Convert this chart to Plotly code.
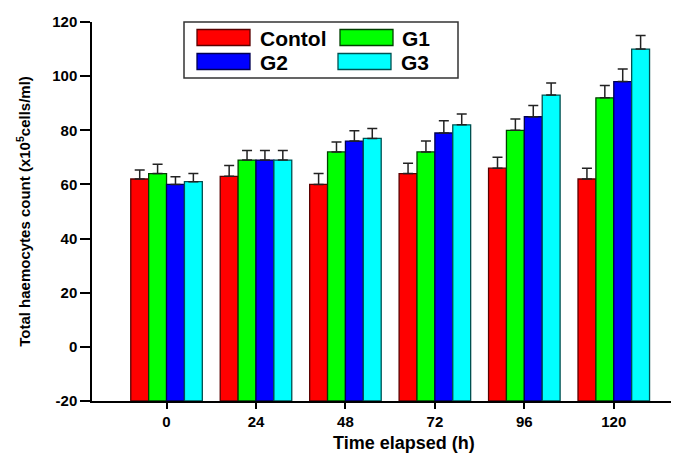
import plotly.graph_objects as go

hours = [0, 24, 48, 72, 96, 120]
series_names = ["Contol", "G1", "G2", "G3"]
control = [62, 63, 60, 64, 66, 62]
g1 = [64, 69, 72, 72, 80, 92]
g2 = [60, 69, 76, 79, 85, 98]
g3 = [61, 69, 77, 82, 93, 110]
control_err = [3.3, 4, 4, 3.8, 4, 4]
g1_err = [3.5, 3.5, 3.7, 4, 4.2, 4.5]
g2_err = [2.8, 3.5, 3.8, 4.5, 4.2, 4.6]
g3_err = [3, 3.5, 3.7, 4, 4.5, 5]
y_ticks = [-20, 0, 20, 40, 60, 80, 100, 120]
BAR_BASE = -20  # bars rise from the bottom of the axis, as in the original
colors = ["#ff0000", "#00ff00", "#0000ff", "#00ffff"]
outlines = ["#5a0000", "#004000", "#000050", "#005050"]

# page body has an 8px default margin; compensate so the plot lands where the original is
OFF = 8
W, H = 679 - OFF, 454 - OFF
L, R, T, B = 92 - OFF, 0, 22 - OFF, 454 - 401
PW, PH = W - L - R, H - T - B

def px(x):  # viewport pixel -> paper x
    return (x - OFF - L) / PW

def py(y):  # viewport pixel -> paper y
    return (H - B - (y - OFF)) / PH

fig = go.Figure()
values = [control, g1, g2, g3]
errs = [control_err, g1_err, g2_err, g3_err]
for name, vals, err, c, oc in zip(series_names, values, errs, colors, outlines):
    fig.add_trace(go.Bar(
        x=hours, y=[v - BAR_BASE for v in vals], base=BAR_BASE, name=name, showlegend=False,
        customdata=vals, hovertemplate="%{x} h: %{customdata}<extra>" + name + "</extra>",
        marker=dict(color=c, line=dict(color=oc, width=1.3)),
        error_y=dict(type="data", array=err, arrayminus=[0] * len(err),
                     symmetric=False, color="#222222", thickness=1.5, width=5),
    ))

font_family = "Liberation Sans, Arial, sans-serif"

# Manual legend (box + swatches + labels)
shapes = [dict(type="rect", xref="paper", yref="paper",
               x0=px(184), x1=px(458), y0=py(78), y1=py(22),
               line=dict(color="#333333", width=1.5), fillcolor="white", layer="above")]
annotations = []
legend_pos = [(197, 37.5), (340, 37.5), (197, 61.5), (338, 61.5)]
text_x = [258, 400, 258, 399]
for i, name in enumerate(series_names):
    sx, sy = legend_pos[i]
    shapes.append(dict(type="rect", xref="paper", yref="paper",
                       x0=px(sx), x1=px(sx + 53), y0=py(sy + 8), y1=py(sy - 8),
                       line=dict(color=outlines[i], width=1.3), fillcolor=colors[i], layer="above"))
    annotations.append(dict(xref="paper", yref="paper", x=px(text_x[i]), y=py(sy + 1),
                            text="<b>%s</b>" % name, showarrow=False,
                            xanchor="left", yanchor="middle",
                            font=dict(family=font_family, size=21, color="black")))

# x-axis title, placed as in the original (right of the axis centre, near the bottom edge)
annotations.append(dict(xref="paper", yref="paper", x=px(404), y=py(443),
                        text="<b>Time elapsed (h)</b>", showarrow=False,
                        xanchor="center", yanchor="middle",
                        font=dict(family=font_family, size=18, color="black")))

fig.update_layout(
    width=W, height=H,
    margin=dict(l=L, r=R, t=T, b=B, pad=0, autoexpand=False),
    paper_bgcolor="white", plot_bgcolor="white",
    barmode="group", bargap=0.2, bargroupgap=0,
    font=dict(family=font_family, color="black"),
    shapes=shapes, annotations=annotations,
    xaxis=dict(
        range=[-20, 137.5], tickvals=hours, ticktext=["<b>%d</b>" % h for h in hours],
        ticks="outside", ticklen=6, tickwidth=1.5, tickcolor="black",
        showline=True, linecolor="black", linewidth=1.5,
        showgrid=False, zeroline=False, automargin=False,
        tickfont=dict(size=15, family=font_family),
    ),
    yaxis=dict(
        range=[-20, 120], tickvals=y_ticks,
        ticktext=["<b>%d</b>" % v for v in y_ticks],
        ticks="outside", ticklen=10, tickwidth=1.5, tickcolor="black",
        showline=True, linecolor="black", linewidth=1.5,
        showgrid=False, zeroline=False, automargin=False,
        tickfont=dict(size=15, family=font_family),
        title=dict(text="<b>Total haemocytes count (x10<sup>5</sup>cells/ml)</b>",
                   font=dict(size=15, family=font_family), standoff=18),
    ),
)

fig.write_html("out.html")
